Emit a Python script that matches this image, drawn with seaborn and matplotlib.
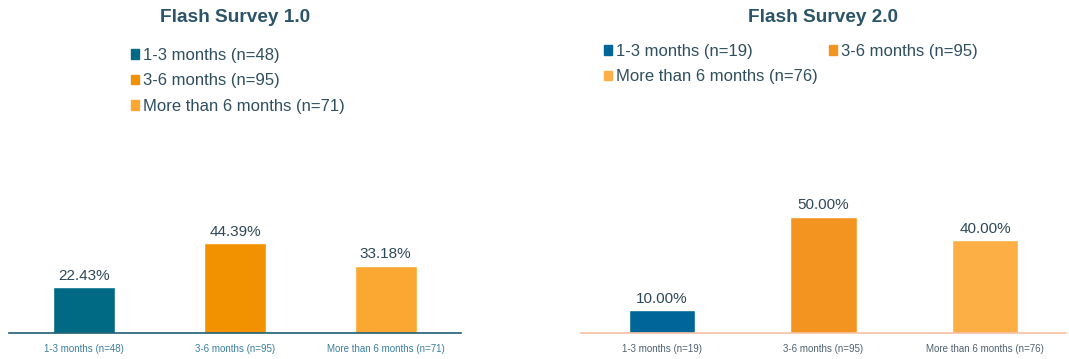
import matplotlib
matplotlib.use("Agg")
import matplotlib.pyplot as plt
from matplotlib.patches import Patch
import seaborn as sns
import pandas as pd

# ---- data ----
cats1 = ["1-3 months (n=48)", "3-6 months (n=95)", "More than 6 months (n=71)"]
vals1 = [22.43, 44.39, 33.18]
cats2 = ["1-3 months (n=19)", "3-6 months (n=95)", "More than 6 months (n=76)"]
vals2 = [10.00, 50.00, 40.00]
titles = ["Flash Survey 1.0", "Flash Survey 2.0"]

colors1 = ["#006A84", "#F39200", "#FAA831"]
colors2 = ["#006699", "#F49420", "#FBAF45"]

sns.set_theme(style="white")
plt.rcParams["font.family"] = ["Liberation Sans", "DejaVu Sans"]

W, H = 1069, 359
fig = plt.figure(figsize=(W / 100, H / 100), dpi=100)

def px_box(x0, x1, ytop, ybot):
    return [x0 / W, 1 - ybot / H, (x1 - x0) / W, (ybot - ytop) / H]

ax1 = fig.add_axes(px_box(9, 461, 150, 333))
ax2 = fig.add_axes(px_box(581, 1066, 150, 333))

TITLE_C = "#2B5468"
TEXT_C = "#2F4F5F"
VAL_C = "#2F4858"

def draw(ax, cats, vals, colors, ymax, axis_c, tick_c):
    df = pd.DataFrame({"cat": cats, "val": vals})
    sns.barplot(data=df, x="cat", y="val", hue="cat", palette=colors,
                order=cats, hue_order=cats, width=0.41, legend=False,
                ax=ax, saturation=1)
    ax.set_xlim(-0.5, 2.5)
    ax.set_ylim(0, ymax)
    for s in ["left", "right", "top"]:
        ax.spines[s].set_visible(False)
    ax.spines["bottom"].set_color(axis_c)
    ax.spines["bottom"].set_linewidth(1.2)
    ax.set_yticks([])
    ax.set_xlabel("")
    ax.set_ylabel("")
    ax.tick_params(axis="x", length=0, pad=8, labelsize=7, labelcolor=tick_c)
    for c in ax.containers:
        ax.bar_label(c, labels=[f"{v:.2f}%" for v in c.datavalues],
                     padding=3, fontsize=11, color=VAL_C)

draw(ax1, cats1, vals1, colors1, 183 / 2.03, "#1F5F75", "#3A7EA0")
draw(ax2, cats2, vals2, colors2, 183 / 2.33, "#F8C0A0", "#4F6070")

fig.text(235 / W, 1 - 17 / H, titles[0], ha="center", va="center",
         fontsize=13.7, fontweight="bold", color=TITLE_C)
fig.text(823 / W, 1 - 17 / H, titles[1], ha="center", va="center",
         fontsize=13.7, fontweight="bold", color=TITLE_C)

leg_kw = dict(loc="upper left", frameon=False, fontsize=12,
              handlelength=0.48, handleheight=0.48, handletextpad=0.24,
              labelspacing=0.63, borderpad=0, borderaxespad=0,
              labelcolor=TEXT_C)

h1 = [Patch(color=c) for c in colors1]
fig.legend(h1, cats1, bbox_to_anchor=(131 / W, 1 - 48 / H), **leg_kw)

h2 = [Patch(color=c) for c in colors2]
order = [0, 2, 1]
fig.legend([h2[i] for i in order], [cats2[i] for i in order], ncol=2,
           bbox_to_anchor=(604 / W, 1 - 44 / H), columnspacing=0.67,
           **leg_kw)

fig.savefig("out.png", dpi=100)
